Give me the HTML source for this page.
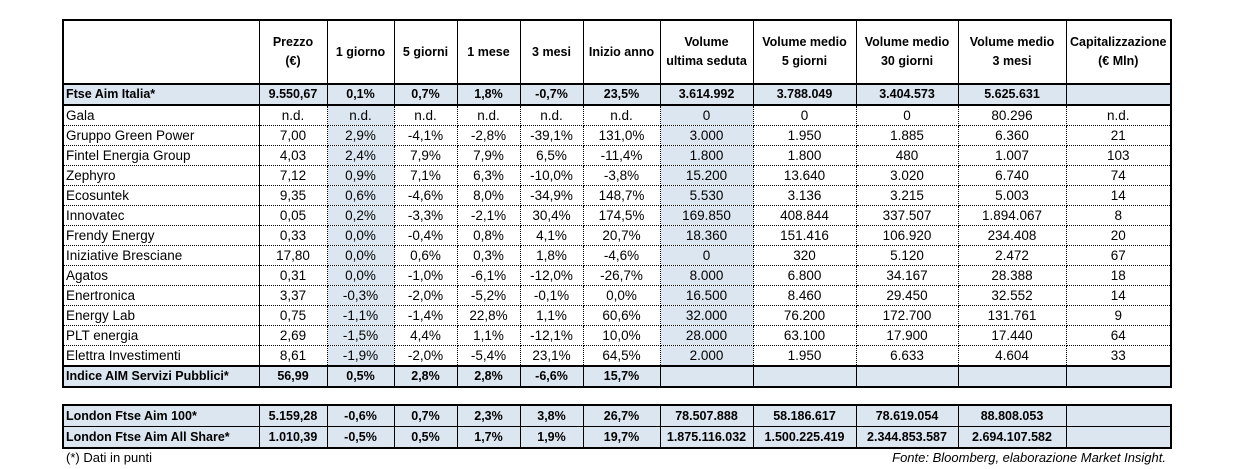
<!DOCTYPE html>
<html><head><meta charset="utf-8">
<style>
body{margin:0;width:1236px;height:469px;background:#fff;position:relative;overflow:hidden;font-family:"Liberation Sans",Arial,sans-serif;font-size:13.5px;color:#000}
table{position:absolute;left:62px;border-collapse:collapse;table-layout:fixed;width:1108px}
td{padding:0 2px;text-align:center;white-space:nowrap;overflow:hidden;border-left:1px dotted #000;border-right:1px dotted #000;border-bottom:1px dotted #000;height:19px;line-height:19px}
td:first-child{text-align:left;border-left:2px solid #000;border-right:1px solid #000}
td:last-child{border-right:2px solid #000}
tr.b td{font-weight:bold;font-size:12.5px;background:#dce6f1;border:1px solid #000;border-top:2px solid #000;border-bottom:2px solid #000}
tr.b td:first-child{border-left:2px solid #000}
tr.b td:last-child{border-right:2px solid #000}
tr.h td{font-weight:bold;font-size:12.5px;background:#fff;border:1px solid #000;border-top:2px solid #000;height:62px;line-height:19px;white-space:normal}
tr.h td:first-child{border-left:2px solid #000}
tr.h td:last-child{border-right:2px solid #000}
td.s{background:#dce6f1}
#t2 tr.b td{border-top:1px solid #000;border-bottom:1px solid #000;height:20px;line-height:20px}
#t2 tr.b:first-child td{border-top:2px solid #000}
#t2 tr.b:last-child td{border-bottom:2px solid #000}
.note{position:absolute;top:450px;font-size:13px}
</style></head><body>
<table id="t1" style="top:19px">
<colgroup><col style="width:196px"><col style="width:68px"><col style="width:67px"><col style="width:63px"><col style="width:63px"><col style="width:63px"><col style="width:77px"><col style="width:93px"><col style="width:103px"><col style="width:102px"><col style="width:108px"><col style="width:105px"></colgroup>
<tr class="h"><td></td><td>Prezzo<br>(€)</td><td>1 giorno</td><td>5 giorni</td><td>1 mese</td><td>3 mesi</td><td>Inizio anno</td><td>Volume<br>ultima seduta</td><td>Volume medio<br>5 giorni</td><td>Volume medio<br>30 giorni</td><td>Volume medio<br>3 mesi</td><td>Capitalizzazione<br>(€ Mln)</td></tr>
<tr class="b"><td>Ftse Aim Italia*</td><td>9.550,67</td><td>0,1%</td><td>0,7%</td><td>1,8%</td><td>-0,7%</td><td>23,5%</td><td>3.614.992</td><td>3.788.049</td><td>3.404.573</td><td>5.625.631</td><td></td></tr>
<tr><td>Gala</td><td>n.d.</td><td class="s">n.d.</td><td>n.d.</td><td>n.d.</td><td>n.d.</td><td>n.d.</td><td class="s">0</td><td>0</td><td>0</td><td>80.296</td><td>n.d.</td></tr>
<tr><td>Gruppo Green Power</td><td>7,00</td><td class="s">2,9%</td><td>-4,1%</td><td>-2,8%</td><td>-39,1%</td><td>131,0%</td><td class="s">3.000</td><td>1.950</td><td>1.885</td><td>6.360</td><td>21</td></tr>
<tr><td>Fintel Energia Group</td><td>4,03</td><td class="s">2,4%</td><td>7,9%</td><td>7,9%</td><td>6,5%</td><td>-11,4%</td><td class="s">1.800</td><td>1.800</td><td>480</td><td>1.007</td><td>103</td></tr>
<tr><td>Zephyro</td><td>7,12</td><td class="s">0,9%</td><td>7,1%</td><td>6,3%</td><td>-10,0%</td><td>-3,8%</td><td class="s">15.200</td><td>13.640</td><td>3.020</td><td>6.740</td><td>74</td></tr>
<tr><td>Ecosuntek</td><td>9,35</td><td class="s">0,6%</td><td>-4,6%</td><td>8,0%</td><td>-34,9%</td><td>148,7%</td><td class="s">5.530</td><td>3.136</td><td>3.215</td><td>5.003</td><td>14</td></tr>
<tr><td>Innovatec</td><td>0,05</td><td class="s">0,2%</td><td>-3,3%</td><td>-2,1%</td><td>30,4%</td><td>174,5%</td><td class="s">169.850</td><td>408.844</td><td>337.507</td><td>1.894.067</td><td>8</td></tr>
<tr><td>Frendy Energy</td><td>0,33</td><td class="s">0,0%</td><td>-0,4%</td><td>0,8%</td><td>4,1%</td><td>20,7%</td><td class="s">18.360</td><td>151.416</td><td>106.920</td><td>234.408</td><td>20</td></tr>
<tr><td>Iniziative Bresciane</td><td>17,80</td><td class="s">0,0%</td><td>0,6%</td><td>0,3%</td><td>1,8%</td><td>-4,6%</td><td class="s">0</td><td>320</td><td>5.120</td><td>2.472</td><td>67</td></tr>
<tr><td>Agatos</td><td>0,31</td><td class="s">0,0%</td><td>-1,0%</td><td>-6,1%</td><td>-12,0%</td><td>-26,7%</td><td class="s">8.000</td><td>6.800</td><td>34.167</td><td>28.388</td><td>18</td></tr>
<tr><td>Enertronica</td><td>3,37</td><td class="s">-0,3%</td><td>-2,0%</td><td>-5,2%</td><td>-0,1%</td><td>0,0%</td><td class="s">16.500</td><td>8.460</td><td>29.450</td><td>32.552</td><td>14</td></tr>
<tr><td>Energy Lab</td><td>0,75</td><td class="s">-1,1%</td><td>-1,4%</td><td>22,8%</td><td>1,1%</td><td>60,6%</td><td class="s">32.000</td><td>76.200</td><td>172.700</td><td>131.761</td><td>9</td></tr>
<tr><td>PLT energia</td><td>2,69</td><td class="s">-1,5%</td><td>4,4%</td><td>1,1%</td><td>-12,1%</td><td>10,0%</td><td class="s">28.000</td><td>63.100</td><td>17.900</td><td>17.440</td><td>64</td></tr>
<tr><td>Elettra Investimenti</td><td>8,61</td><td class="s">-1,9%</td><td>-2,0%</td><td>-5,4%</td><td>23,1%</td><td>64,5%</td><td class="s">2.000</td><td>1.950</td><td>6.633</td><td>4.604</td><td>33</td></tr>
<tr class="b"><td>Indice AIM Servizi Pubblici*</td><td>56,99</td><td>0,5%</td><td>2,8%</td><td>2,8%</td><td>-6,6%</td><td>15,7%</td><td></td><td></td><td></td><td></td><td></td></tr>
</table>
<table id="t2" style="top:404px">
<colgroup><col style="width:196px"><col style="width:68px"><col style="width:67px"><col style="width:63px"><col style="width:63px"><col style="width:63px"><col style="width:77px"><col style="width:93px"><col style="width:103px"><col style="width:102px"><col style="width:108px"><col style="width:105px"></colgroup>
<tr class="b"><td>London Ftse Aim 100*</td><td>5.159,28</td><td>-0,6%</td><td>0,7%</td><td>2,3%</td><td>3,8%</td><td>26,7%</td><td>78.507.888</td><td>58.186.617</td><td>78.619.054</td><td>88.808.053</td><td></td></tr>
<tr class="b"><td>London Ftse Aim All Share*</td><td>1.010,39</td><td>-0,5%</td><td>0,5%</td><td>1,7%</td><td>1,9%</td><td>19,7%</td><td>1.875.116.032</td><td>1.500.225.419</td><td>2.344.853.587</td><td>2.694.107.582</td><td></td></tr>
</table>
<div class="note" style="left:66px">(*) Dati in punti</div>
<div class="note" style="right:70px;font-style:italic">Fonte: Bloomberg, elaborazione Market Insight.</div>
</body></html>
